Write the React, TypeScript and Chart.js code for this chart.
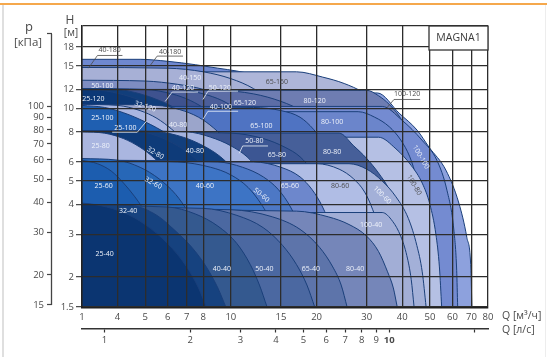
import { useEffect, useRef } from 'react';
import { Chart, registerables } from 'chart.js';

Chart.register(...registerables);

type Pt = [number, number];

// Axis ticks: Q in m³/h (first position is printed as "1"), H in m, p in kPa, Q in l/s
const qTicks = [3, 4, 5, 6, 7, 8, 10, 15, 20, 30, 40, 50, 60, 70, 80];
const hTicks = [1.5, 2, 3, 4, 5, 6, 8, 10, 12, 15, 18, 22];
const pTicks = [15, 20, 30, 40, 50, 60, 70, 80, 90, 100, 200];
const lsTicks = [1, 2, 3, 4, 5, 6, 7, 8, 9, 10, 20];

const Q_MIN = 3;
const Q_MAX = 80;
const H_MIN = 1.5;
const H_MAX = 22;
const M3H_PER_LS = 3.6;
const KPA_PER_M = 9.81;

// Max-speed curves [Q m³/h, H m] for each MAGNA1 model
const m40_180: Pt[] = [[3, 16.0], [4.8, 16.0], [6, 15.7], [7.5, 15.2], [9, 14.7], [10.5, 14.3], [12, 13.8], [14, 12.8], [16, 11.3], [18, 9.2], [20, 6.6], [21.5, 4.0], [22.5, 1.5]];
const m65_150: Pt[] = [[3, 14.2], [17, 14.2], [21, 13.5], [25, 12.7], [29, 11.7], [33, 10.4], [37, 8.8], [41, 7.0], [45, 5.0], [48, 3.2], [50, 1.5]];
const m40_150: Pt[] = [[3, 14.8], [6, 14.7], [8, 14.2], [10, 13.3], [12, 12.1], [14, 10.6], [16, 8.9], [18, 7.0], [20, 5.0], [22, 3.0], [23, 1.5]];
const m50_100: Pt[] = [[3, 13.1], [5, 13.0], [6.5, 12.6], [8, 12.0], [9.5, 11.1], [11, 10.0], [12.5, 8.6], [14, 7.0], [15.5, 5.2], [17, 3.2], [18, 1.5]];

const m100_120: Pt[] = [[3, 11.6], [32.7, 11.6], [39, 9.56], [45.1, 8.13], [49.7, 6.9], [56.9, 5.55], [63.2, 4.05], [67.4, 2.92], [69.7, 2.13], [70.2, 1.5]];
const m80_120: Pt[] = [[3, 11.9], [30, 11.9], [33, 11.3], [36, 10.4], [39, 9.3], [42, 8.0], [45, 6.6], [48, 5.0], [51, 3.4], [53, 2.2], [54, 1.5]];
const m65_120: Pt[] = [[3, 12.0], [9, 11.9], [12, 11.5], [15, 10.7], [18, 9.7], [21, 8.5], [23.5, 7.2], [26, 5.7], [28.5, 4.0], [31, 2.3], [32.5, 1.5]];
const m50_120: Pt[] = [[3, 12.0], [6.5, 12.0], [8, 11.5], [9.3, 10.8], [10.7, 9.8], [12.2, 8.7], [13.8, 7.4], [15.5, 5.8], [17.2, 4.0], [19, 2.3], [20, 1.5]];
const m40_120: Pt[] = [[3, 12.1], [5, 12.0], [6.2, 11.5], [7.2, 10.8], [8.3, 9.8], [9.5, 8.7], [10.8, 7.4], [12.2, 5.8], [13.7, 4.0], [15.2, 2.3], [16, 1.5]];
const m32_120: Pt[] = [[3, 12.1], [4, 12.0], [4.8, 11.5], [5.6, 10.8], [6.5, 9.9], [7.5, 8.8], [8.5, 7.6], [9.7, 6.1], [11, 4.4], [12.4, 2.5], [13.2, 1.5]];
const m25_120: Pt[] = [[3, 12.0], [3.5, 11.9], [4.2, 11.4], [5, 10.6], [6, 9.5], [7, 8.3], [8, 7.0], [9, 5.6], [10, 4.0], [11, 2.3], [11.6, 1.5]];

const m100_100: Pt[] = [[3, 10.2], [34, 10.2], [39.9, 8.94], [46.9, 7.39], [52.9, 6.1], [57.4, 4.58], [60.7, 3.13], [62.1, 2.13], [62.6, 1.5]];
const m80_100: Pt[] = [[3, 9.7], [28, 9.7], [32, 9.2], [36, 8.4], [39.5, 7.4], [42.5, 6.3], [45, 5.1], [47.5, 3.8], [49.5, 2.5], [50.5, 1.5]];
const m65_100: Pt[] = [[3, 10.2], [12, 10.1], [15, 9.8], [17.5, 9.2], [19.5, 8.2], [21.5, 7.0], [23.5, 5.7], [25.5, 4.3], [27.5, 2.8], [29, 1.5]];
const m40_100: Pt[] = [[3, 10.4], [5.5, 10.3], [6.6, 9.9], [7.7, 9.2], [8.7, 8.3], [9.7, 7.3], [10.7, 6.2], [11.8, 4.8], [13, 3.2], [14.2, 1.5]];
const m32_100: Pt[] = [[3, 10.4], [4, 10.3], [4.8, 9.8], [5.5, 9.1], [6.2, 8.2], [7, 7.2], [8, 6.0], [9.2, 4.6], [10.5, 3.0], [11.7, 1.5]];
const m25_100: Pt[] = [[3, 10.3], [3.6, 10.1], [4.2, 9.6], [5, 8.8], [6, 7.8], [7, 6.7], [8, 5.5], [9, 4.3], [10.2, 2.8], [11.2, 1.5]];

const m100_80: Pt[] = [[3, 7.6], [33, 7.6], [38, 6.8], [43, 5.8], [47, 4.9], [50, 4.0], [52.5, 3.0], [54, 2.2], [55, 1.5]];
const m80_80: Pt[] = [[3, 7.9], [24, 7.9], [27, 7.0], [30, 6.2], [33, 5.4], [36, 4.6], [39, 3.6], [41, 2.6], [42.5, 1.5]];
const m65_80: Pt[] = [[3, 8.0], [10, 7.9], [13, 7.5], [15.5, 6.9], [17.5, 6.3], [19.3, 5.5], [21, 4.6], [23, 3.5], [25, 2.4], [26.3, 1.5]];
const m50_80: Pt[] = [[3, 8.1], [7, 8.0], [8.5, 7.6], [10, 7.0], [11.4, 6.3], [12.6, 5.5], [13.8, 4.6], [15.2, 3.6], [16.8, 2.5], [18, 1.5]];
const m40_80: Pt[] = [[3, 8.1], [5.5, 8.0], [6.8, 7.6], [8, 7.0], [9.2, 6.3], [10.3, 5.5], [11.3, 4.7], [12.5, 3.7], [14, 2.6], [15.3, 1.5]];
const m32_80: Pt[] = [[3, 8.1], [4.5, 8.1], [5.5, 7.7], [6.5, 7.0], [7.5, 6.2], [8.5, 5.3], [9.5, 4.4], [10.5, 3.5], [11.8, 2.4], [12.8, 1.5]];
const m25_80: Pt[] = [[3, 8.0], [3.6, 7.9], [4.2, 7.5], [4.8, 6.9], [5.4, 6.2], [6, 5.4], [6.8, 4.4], [7.6, 3.4], [8.6, 2.3], [9.4, 1.5]];

const m100_60: Pt[] = [[3, 5.9], [26, 5.9], [30, 5.6], [34, 5.0], [38, 4.3], [42, 3.5], [45, 2.7], [47, 2.1], [48.5, 1.5]];
const m80_60: Pt[] = [[3, 5.9], [20, 5.9], [24, 5.6], [27, 5.1], [29.5, 4.5], [31.5, 3.8], [33, 3.2], [35, 2.3], [36.5, 1.5]];
const m65_60: Pt[] = [[3, 6.0], [12, 6.0], [15, 5.7], [17.5, 5.2], [19.3, 4.6], [21, 3.9], [22.5, 3.2], [24.5, 2.3], [25.5, 1.5]];
const m50_60: Pt[] = [[3, 6.1], [9, 6.0], [11, 5.7], [13, 5.2], [14.7, 4.6], [16.2, 3.9], [17.5, 3.2], [19, 2.3], [20, 1.5]];
const m40_60: Pt[] = [[3, 6.1], [6.5, 6.0], [8.5, 5.7], [10, 5.3], [11.5, 4.7], [12.8, 4.0], [14, 3.3], [15.5, 2.3], [16.3, 1.5]];
const m32_60: Pt[] = [[3, 6.2], [4, 6.1], [4.8, 5.7], [5.6, 5.1], [6.4, 4.4], [7.1, 3.7], [8, 2.9], [9, 2.1], [9.7, 1.5]];
const m25_60: Pt[] = [[3, 6.1], [3.4, 5.9], [3.8, 5.5], [4.2, 4.9], [4.6, 4.3], [5.1, 3.6], [5.8, 2.8], [6.7, 2.0], [7.4, 1.5]];

const m100_40: Pt[] = [[3, 3.7], [34, 3.7], [37, 3.4], [39.5, 2.95], [41.5, 2.45], [43, 1.95], [44, 1.5]];
const m80_40: Pt[] = [[3, 3.8], [17, 3.75], [22, 3.55], [26, 3.3], [30, 2.95], [33, 2.55], [35.5, 2.1], [37.2, 1.8], [38.4, 1.5]];
const m65_40: Pt[] = [[3, 3.85], [10, 3.8], [14, 3.55], [17.5, 3.15], [20.5, 2.65], [22.8, 2.2], [24.4, 1.85], [25.6, 1.5]];
const m50_40: Pt[] = [[3, 3.9], [8, 3.85], [10.5, 3.6], [13, 3.2], [15.2, 2.7], [17, 2.25], [18.5, 1.85], [19.7, 1.5]];
const m40_40: Pt[] = [[3, 3.95], [6, 3.9], [7.5, 3.65], [9, 3.25], [10.5, 2.75], [11.7, 2.25], [12.6, 1.85], [13.4, 1.5]];
const m32_40: Pt[] = [[3, 4.0], [4.5, 3.95], [5.5, 3.6], [6.3, 3.15], [7.3, 2.65], [8.2, 2.2], [9, 1.8], [9.6, 1.5]];
const m25_40: Pt[] = [[3, 4.05], [3.5, 3.95], [4.2, 3.7], [5, 3.3], [6, 2.75], [7, 2.2], [7.7, 1.8], [8.2, 1.5]];

// Painting order, back to front, with each model's fill colour
const layers: [string, Pt[], string][] = [
  ['40-180', m40_180, '#6f88d0'],
  ['65-150', m65_150, '#aeb6d9'],
  ['40-150', m40_150, '#a7b0d6'],
  ['50-100', m50_100, '#7e8dc2'],
  ['100-120', m100_120, '#8da1dd'],
  ['80-120', m80_120, '#6e7db2'],
  ['65-120', m65_120, '#5c6da6'],
  ['50-120', m50_120, '#4b5e99'],
  ['40-120', m40_120, '#3e528f'],
  ['32-120', m32_120, '#113e7b'],
  ['25-120', m25_120, '#0c3876'],
  ['100-100', m100_100, '#748bd1'],
  ['80-100', m80_100, '#6b85cb'],
  ['65-100', m65_100, '#4f73c2'],
  ['40-100', m40_100, '#9ba5cb'],
  ['32-100', m32_100, '#a9b6e1'],
  ['25-100', m25_100, '#1f5fb1'],
  ['100-80', m100_80, '#b5c0e4'],
  ['80-80', m80_80, '#465f99'],
  ['65-80', m65_80, '#3c5693'],
  ['50-80', m50_80, '#a4b3df'],
  ['40-80', m40_80, '#123f7d'],
  ['32-80', m32_80, '#0e3b79'],
  ['25-80', m25_80, '#aab6e0'],
  ['100-60', m100_60, '#a3b0d8'],
  ['80-60', m80_60, '#b0bde5'],
  ['65-60', m65_60, '#6d87cc'],
  ['50-60', m50_60, '#4d78c5'],
  ['40-60', m40_60, '#3d74c5'],
  ['32-60', m32_60, '#2767b7'],
  ['25-60', m25_60, '#1c5daf'],
  ['100-40', m100_40, '#a2aed6'],
  ['80-40', m80_40, '#7586b9'],
  ['65-40', m65_40, '#5d74aa'],
  ['50-40', m50_40, '#4b68a1'],
  ['40-40', m40_40, '#34598f'],
  ['32-40', m32_40, '#16427f'],
  ['25-40', m25_40, '#0b3571'],
];

type Tag = { t: string; q: number; h: number; rot?: number; dark?: boolean; lead?: Pt[] };

// Model tags placed at [Q, H]; leaders run from the pointed band to the underline
const tags: Tag[] = [
  { t: '40-180', q: 3.75, h: 17.5, dark: true, lead: [[3.16, 14.7], [3.4, 16.6], [4.16, 16.6]] },
  { t: '40-180', q: 6.12, h: 17.1, dark: true, lead: [[5.21, 15.1], [5.51, 16.5], [6.79, 16.5]] },
  { t: '40-150', q: 7.19, h: 13.4 },
  { t: '40-120', q: 6.79, h: 12.15, lead: [[5.88, 10.7], [6.22, 11.7], [7.67, 11.7]] },
  { t: '50-120', q: 9.15, h: 12.2, lead: [[7.98, 10.9], [8.31, 11.8], [10.6, 11.8]] },
  { t: '50-100', q: 3.54, h: 12.4 },
  { t: '25-120', q: 3.29, h: 10.9 },
  { t: '32-120', q: 5.0, h: 10.2, rot: 18 },
  { t: '40-100', q: 9.23, h: 10.1, lead: [[7.98, 9.02], [8.31, 9.74], [10.6, 9.74]] },
  { t: '25-100', q: 3.54, h: 9.12 },
  { t: '25-100', q: 4.26, h: 8.28, lead: [[5.05, 8.85], [4.69, 7.97], [3.83, 7.97]] },
  { t: '40-80', q: 6.53, h: 8.53 },
  { t: '25-80', q: 3.49, h: 6.97 },
  { t: '32-80', q: 5.43, h: 6.53, rot: 30 },
  { t: '40-80', q: 7.48, h: 6.66 },
  { t: '65-150', q: 14.5, h: 12.9, dark: true },
  { t: '65-120', q: 11.2, h: 10.5 },
  { t: '80-120', q: 19.7, h: 10.7 },
  { t: '65-100', q: 12.8, h: 8.44 },
  { t: '80-100', q: 22.7, h: 8.77 },
  { t: '50-80', q: 12.1, h: 7.31, lead: [[10.7, 6.52], [11.0, 6.99], [13.5, 6.99]] },
  { t: '65-80', q: 14.5, h: 6.4 },
  { t: '80-80', q: 22.7, h: 6.63 },
  { t: '100-120', q: 41.6, h: 11.5, dark: true, lead: [[35.4, 10.1], [37.4, 10.9], [46.2, 10.9]] },
  { t: '100-100', q: 46.5, h: 6.28, rot: 60 },
  { t: '100-80', q: 44.0, h: 4.81, rot: 60, dark: true },
  { t: '100-60', q: 34.0, h: 4.37, rot: 45 },
  { t: '100-40', q: 31.1, h: 3.28 },
  { t: '80-60', q: 24.2, h: 4.76, dark: true },
  { t: '65-60', q: 16.1, h: 4.76 },
  { t: '50-60', q: 12.8, h: 4.37, rot: 40 },
  { t: '40-60', q: 8.11, h: 4.76 },
  { t: '32-60', q: 5.34, h: 4.9, rot: 28 },
  { t: '25-60', q: 3.57, h: 4.76 },
  { t: '32-40', q: 4.36, h: 3.75 },
  { t: '25-40', q: 3.6, h: 2.5 },
  { t: '40-40', q: 9.3, h: 2.15 },
  { t: '50-40', q: 13.1, h: 2.15 },
  { t: '65-40', q: 19.1, h: 2.15 },
  { t: '80-40', q: 27.3, h: 2.15 },
];

const FONT = '"Open Sans", "DejaVu Sans", sans-serif';
const TICK = '#4a4a4a';
const GRID = '#2c2c2c';
const EDGE = '#1a3f7a';

const decor = {
  id: 'decor',
  beforeDraw(chart: any) {
    const c = chart.ctx;
    c.save();
    c.fillStyle = '#ffffff';
    c.fillRect(0, 0, chart.width, chart.height);
    c.restore();
  },
  afterDraw(chart: any) {
    const c: CanvasRenderingContext2D = chart.ctx;
    const a = chart.chartArea;
    const sx = chart.scales.x;
    const sy = chart.scales.y;
    const sp = chart.scales.yP;
    const seg = (x1: number, y1: number, x2: number, y2: number) => {
      c.beginPath();
      c.moveTo(x1, y1);
      c.lineTo(x2, y2);
      c.stroke();
    };
    c.save();

    // page frame
    c.strokeStyle = '#f5a84c';
    c.lineWidth = 2.2;
    seg(0, 4, chart.width, 4);
    c.strokeStyle = '#d4d4d4';
    c.lineWidth = 1.5;
    seg(3, 5, 3, chart.height);
    c.strokeStyle = '#ededed';
    c.lineWidth = 1;
    seg(545.5, 5, 545.5, chart.height);

    // pressure scale spine
    c.strokeStyle = '#444';
    c.lineWidth = 1.3;
    seg(sp.right - 0.5, sp.getPixelForValue(200), sp.right - 0.5, sp.getPixelForValue(15));

    // axis titles
    c.fillStyle = '#4a4a4a';
    c.textAlign = 'center';
    c.textBaseline = 'middle';
    c.font = `13px ${FONT}`;
    c.fillText('p', 29, 27);
    c.font = `11.5px ${FONT}`;
    c.fillText('[кПа]', 28, 43);
    c.font = `12px ${FONT}`;
    c.fillText('H', 70, 21);
    c.font = `10.5px ${FONT}`;
    c.fillText('[м]', 71, 33);
    c.textAlign = 'left';
    c.font = `10.5px ${FONT}`;
    c.fillText('Q [м³/ч]', 502, 316);
    c.fillText('Q [л/с]', 502, 330);

    // model name box
    const bw = 59;
    const bh = 24;
    c.fillStyle = '#ffffff';
    c.fillRect(a.right - bw, a.top, bw, bh);
    c.strokeStyle = '#333';
    c.lineWidth = 1.3;
    c.strokeRect(a.right - bw, a.top, bw, bh);
    c.fillStyle = '#3a3a3a';
    c.textAlign = 'center';
    c.font = `10.5px ${FONT}`;
    c.fillText('MAGNA1', a.right - bw / 2, a.top + bh / 2 + 0.5);

    // model tags
    c.font = `7px ${FONT}`;
    for (const g of tags) {
      const col = g.dark ? '#4a4a4a' : '#eef2fa';
      if (g.lead) {
        c.strokeStyle = col;
        c.lineWidth = 0.8;
        c.beginPath();
        g.lead.forEach(([q, h], i) => {
          const px = sx.getPixelForValue(q);
          const py = sy.getPixelForValue(h);
          if (i === 0) c.moveTo(px, py);
          else c.lineTo(px, py);
        });
        c.stroke();
      }
      c.save();
      c.translate(sx.getPixelForValue(g.q), sy.getPixelForValue(g.h));
      if (g.rot) c.rotate((g.rot * Math.PI) / 180);
      c.fillStyle = col;
      c.fillText(g.t, 0, 0);
      c.restore();
    }
    c.restore();
  },
};

export default function App() {
  const ref = useRef<HTMLCanvasElement | null>(null);

  useEffect(() => {
    if (!ref.current) return;
    const datasets = layers.map(([label, pts, color], i) => ({
      label,
      data: pts.map(([q, h]) => ({ x: q, y: h })),
      backgroundColor: color,
      borderColor: EDGE,
      borderWidth: 1,
      fill: 'start',
      pointRadius: 0,
      cubicInterpolationMode: 'monotone',
      order: layers.length - i,
    }));

    const tickFont = { family: FONT, size: 9.5 };

    const chart = new Chart(ref.current, {
      type: 'line',
      data: { datasets } as any,
      options: {
        responsive: false,
        maintainAspectRatio: false,
        animation: false,
        devicePixelRatio: 1,
        events: [],
        layout: { padding: { left: 0, right: 59, top: 26, bottom: 0 } },
        plugins: { legend: { display: false }, tooltip: { enabled: false } },
        scales: {
          x: {
            type: 'logarithmic',
            position: 'bottom',
            weight: 0,
            bounds: 'data',
            min: Q_MIN,
            max: Q_MAX,
            afterBuildTicks: (s: any) => {
              s.ticks = qTicks.map((v) => ({ value: v }));
            },
            afterFit: (s: any) => {
              s.height = 21.5;
            },
            ticks: {
              autoSkip: false,
              maxRotation: 0,
              padding: 5,
              color: TICK,
              font: tickFont,
              callback: (v: any) => (v === Q_MIN ? '1' : String(v)),
            },
            grid: { color: GRID, lineWidth: 1.3, drawTicks: false, z: 1 },
            border: { display: true, color: '#1c1c1c', width: 2.5, z: 1 },
          },
          xL: {
            type: 'logarithmic',
            position: 'bottom',
            weight: 1,
            bounds: 'data',
            min: Q_MIN / M3H_PER_LS,
            max: Q_MAX / M3H_PER_LS,
            afterBuildTicks: (s: any) => {
              s.ticks = lsTicks.map((v) => ({ value: v }));
            },
            afterFit: (s: any) => {
              s.height = 28.5;
            },
            ticks: {
              autoSkip: false,
              maxRotation: 0,
              padding: 2,
              color: TICK,
              font: (ctx: any) => ({
                family: FONT,
                size: 9.5,
                weight: ctx.tick && ctx.tick.value === 10 ? 'bold' : 'normal',
              }),
              callback: (v: any) => (v === 20 ? '' : String(v)),
            },
            grid: { drawOnChartArea: false, drawTicks: true, tickLength: 4, tickColor: '#333', tickWidth: 1.2 },
            border: { display: true, color: '#333', width: 1.5 },
          },
          y: {
            type: 'logarithmic',
            position: 'left',
            weight: 0,
            bounds: 'data',
            min: H_MIN,
            max: H_MAX,
            afterBuildTicks: (s: any) => {
              s.ticks = hTicks.map((v) => ({ value: v }));
            },
            afterFit: (s: any) => {
              s.width = 30;
            },
            ticks: {
              autoSkip: false,
              padding: 2,
              color: TICK,
              font: tickFont,
              callback: (v: any) => (v === H_MAX ? '' : String(v)),
            },
            grid: {
              color: GRID,
              lineWidth: 1.3,
              z: 1,
              tickLength: 6,
              tickWidth: 1.2,
              tickColor: (ctx: any) => (ctx.tick && ctx.tick.value === H_MAX ? 'rgba(0,0,0,0)' : '#444'),
            },
            border: { display: true, color: '#222', width: 1.5, z: 1 },
          },
          yP: {
            type: 'logarithmic',
            position: 'left',
            weight: 1,
            bounds: 'data',
            min: H_MIN * KPA_PER_M,
            max: H_MAX * KPA_PER_M,
            afterBuildTicks: (s: any) => {
              s.ticks = pTicks.map((v) => ({ value: v }));
            },
            afterFit: (s: any) => {
              s.width = 52;
            },
            ticks: {
              autoSkip: false,
              padding: 3,
              color: TICK,
              font: tickFont,
              callback: (v: any) => (v === 200 ? '' : String(v)),
            },
            grid: { drawOnChartArea: false, tickLength: 5, tickColor: '#444', tickWidth: 1.2 },
            border: { display: false },
          },
        },
      } as any,
      plugins: [decor as any],
    });

    return () => chart.destroy();
  }, []);

  return (
    <div style={{ position: 'fixed', left: 0, top: 0, width: 547, height: 357, background: '#fff' }}>
      <canvas ref={ref} width={547} height={357} style={{ display: 'block', width: 547, height: 357 }} />
    </div>
  );
}
